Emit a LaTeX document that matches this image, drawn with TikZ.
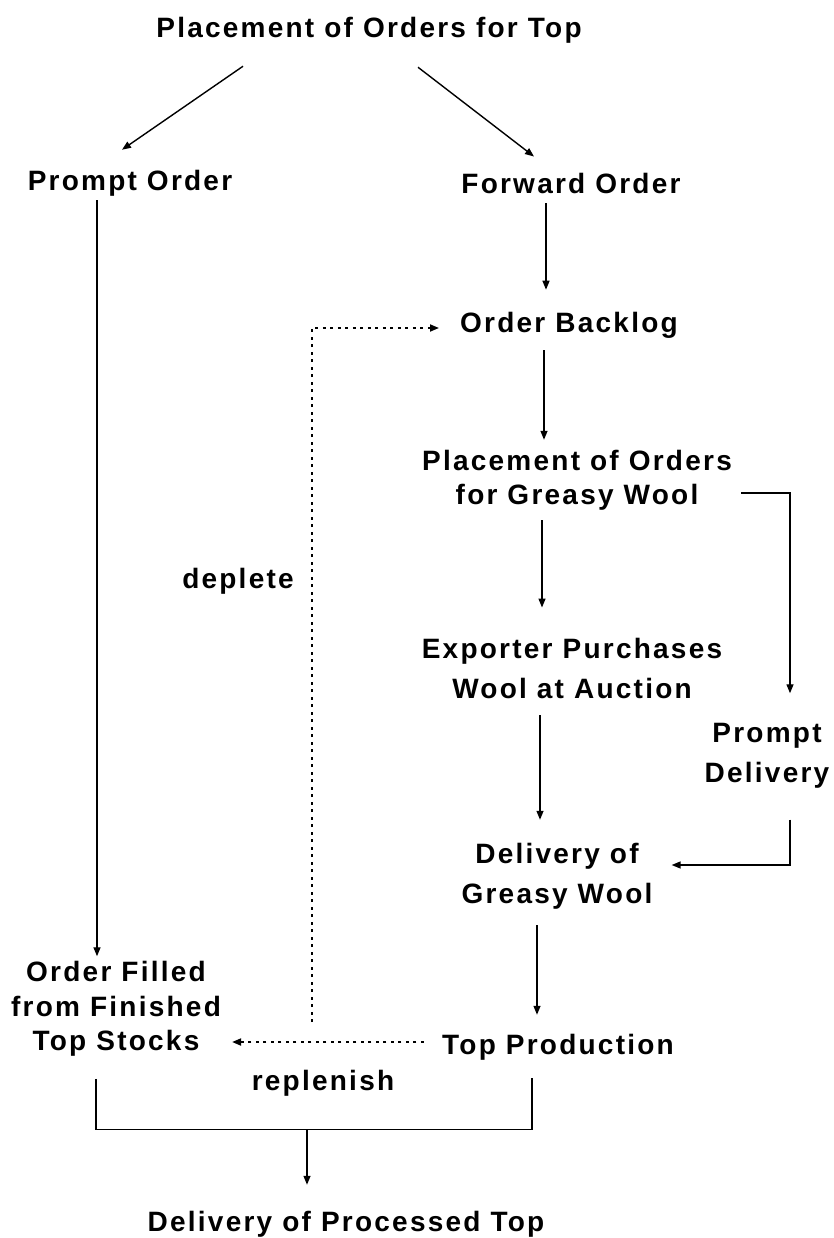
\documentclass[tikz,border=0pt]{standalone}
\usepackage{fontspec}
\setmainfont{Liberation Sans}[LetterSpace=8]
\usetikzlibrary{arrows.meta, calc}

\begin{document}
\begin{tikzpicture}[x=1pt, y=-1pt,
    lbl/.style={inner sep=0pt, align=center, font=\fontsize{28}{34}\selectfont\bfseries},
    arr/.style={-{Triangle[length=9pt, width=7pt]}, line width=1.4pt},
    dots/.style={arr, line width=1.8pt, dash pattern=on 3pt off 4.5pt},
    link/.style={line width=1.4pt}
  ]
  \useasboundingbox (0,0) rectangle (833,1238);

  % Orders for top
  \node[lbl] (top) at (369,30) {Placement of Orders for Top};
  \node[lbl] (prompt) at (130,183) {Prompt Order};
  \node[lbl] (fwd) at (571,183) {Forward Order};
  \draw[arr] ($(top.south)+(-126,23)$) -- ($(prompt.north)+(-8,-20)$);
  \draw[arr] ($(top.south)+(49,24)$) -- ($(fwd.north)+(-37,-16)$);

  % Forward order chain
  \node[lbl] (backlog) at (569,325) {Order Backlog};
  \node[lbl] (placegw) at (577,480) {Placement of Orders\\for Greasy Wool};
  \node[lbl] (exporter) at (572,668) {Exporter Purchases\\[6pt]Wool at Auction};
  \node[lbl] (promptdel) at (767,756) {Prompt\\[6pt]Delivery};
  \node[lbl] (delgw) at (557,876) {Delivery of\\[6pt]Greasy Wool};
  \node[lbl] (topprod) at (558,1047) {Top Production};
  \draw[arr] ($(fwd.south)+(-25,10)$) -- ($(backlog.north)+(-23,-22)$);
  \draw[arr] ($(backlog.south)+(-25,12)$) -- ($(placegw.north)+(-33,-10)$);
  \draw[arr] ($(placegw.south)+(-35,10)$) -- ($(exporter.north)+(-30,-30)$);
  \draw[arr] ($(exporter.south)+(-32,17)$) -- ($(delgw.north)+(-17,-23)$);
  \draw[arr] ($(delgw.south)+(-20,16)$) -- ($(topprod.north)+(-21,-19)$);
  \draw[arr] ($(placegw.east)+(9,13)$) -| ($(promptdel.north)+(23,-30)$);
  \draw[arr] ($(promptdel.south)+(23,31)$) |- ($(delgw.east)+(19,-11)$);

  % Prompt order chain
  \node[lbl] (filled) at (116,1009) {Order Filled\\[1pt]from Finished\\Top Stocks};
  \draw[arr] ($(prompt.south)+(-33,4)$) -- ($(filled.north)+(-19,-5)$);

  % Stock feedback
  \node[lbl] (deplete) at (238,581) {deplete};
  \node[lbl] (replenish) at (323,1083) {replenish};
  \draw[dots] ($(topprod.west)+(-130,-25)$) |- ($(backlog.west)+(-21,3)$);
  \draw[dots] ($(topprod.west)+(-18,-5)$) -- ($(filled.east)+(11,33)$);

  % Final delivery
  \node[lbl] (final) at (346,1224) {Delivery of Processed Top};
  \coordinate (bar) at ($(final.north)+(-39,-81)$);
  \draw[link] ($(filled.south)+(-20,22)$) |- (bar) -| ($(topprod.south)+(-26,18)$);
  \draw[arr] (bar) -- ($(final.north)+(-39,-26)$);
\end{tikzpicture}
\end{document}
